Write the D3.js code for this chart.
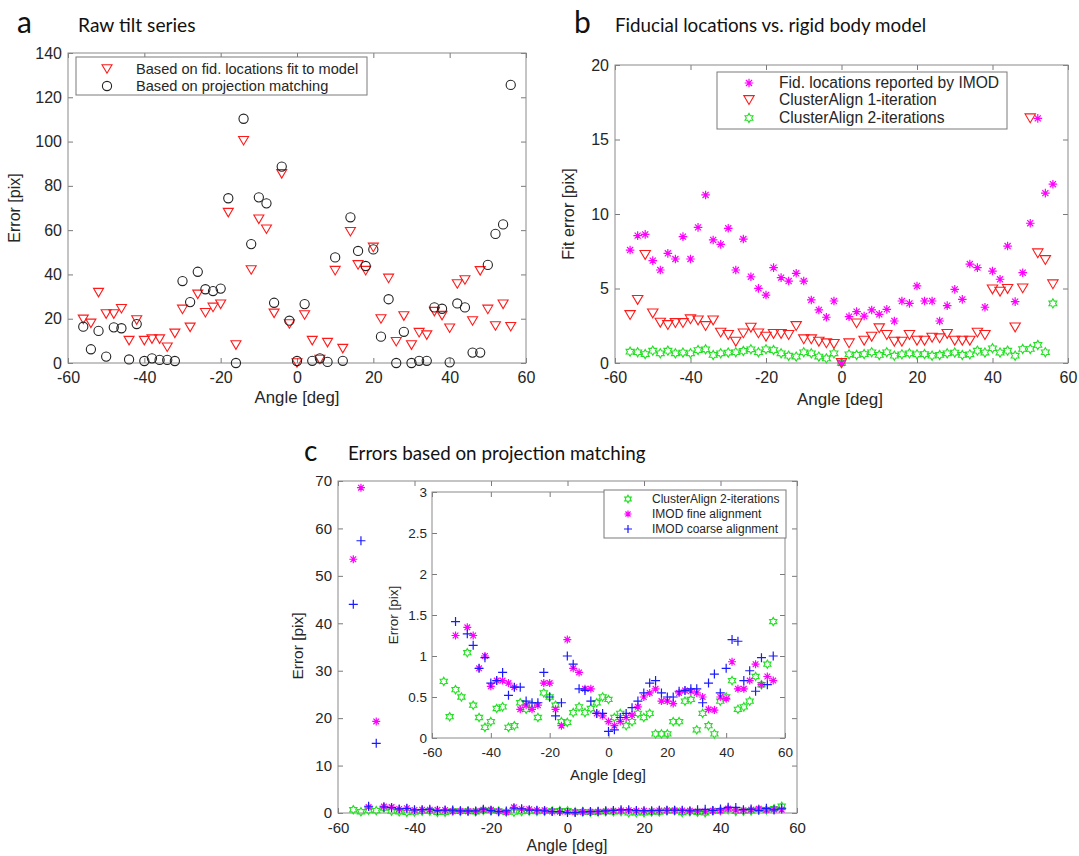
<!DOCTYPE html>
<html>
<head>
<meta charset="utf-8">
<script src="https://cdnjs.cloudflare.com/ajax/libs/d3/7.8.5/d3.min.js"></script>
<style>
body { margin: 0; background: #fff; }
svg text { font-family: "Liberation Sans", Arial, sans-serif; fill: #262626; }
svg text.title { font-family: Lato, "Open Sans", sans-serif; fill: #111; }
</style>
</head>
<body>
<svg id="fig" width="1079" height="856"></svg>
<script>
'use strict';

// tilt angles (deg), shared by every series
let angles = [-56,-54,-52,-50,-48,-46,-44,-42,-40,-38,-36,-34,-32,-30,-28,-26,-24,-22,-20,-18,-16,-14,-12,-10,-8,-6,-4,-2,
              0,2,4,6,8,10,12,14,16,18,20,22,24,26,28,30,32,34,36,38,40,42,44,46,48,50,52,54,56];

// a - raw tilt series
let aFidFit = [19.7,17.9,31.8,22.1,22.1,24.5,10.1,19.4,10.1,10.8,10.8,7.1,13.4,24.2,16.1,31,22.7,25.1,26.5,67.9,8.1,100.4,42,64.9,60.4,22.4,85.4,17.6,
               0,21.7,10.1,1.6,9.2,41.7,6.5,59.3,44.3,41.7,52.2,19.9,38.2,9.6,21.2,8.1,13.7,12.6,23.2,21.4,15.7,35.7,37.5,19,41.6,24.2,16.7,26.5,16.4];
let aProjMatch = [16.4,6.2,14.5,2.9,16.1,15.7,1.6,17.6,0.9,2.1,1.4,1.4,0.9,37,27.5,41.2,33.3,32.5,33.6,74.4,0,110.3,53.7,74.8,72.1,27.2,88.7,19.1,
                  0.9,26.6,1,2.1,0.5,47.7,1,65.8,50.6,43.8,51.3,11.9,28.8,0,14.1,0,1,1,25.1,24.5,0.3,26.9,25.1,4.7,4.7,44.3,58.3,62.6,125.6];

// b - fiducial locations vs rigid body model
let bImod = [7.58,8.55,8.63,6.87,6.24,7.36,6.98,8.48,6.98,9.1,11.28,8.26,7.96,9.04,6.24,8.32,5.79,5.01,4.56,6.4,5.73,5.5,6.02,5.5,4.23,3.56,3.07,4.16,
             0,3.11,3.45,3.15,3.56,3.27,3.6,2.82,4.16,4.0,5.17,4.16,4.16,2.82,3.85,4.94,4.27,6.64,6.4,3.74,6.17,5.62,7.85,4.12,6.06,9.38,16.42,11.4,12.0];
let bClusterAlign1 = [3.22,4.23,7.25,3.33,2.71,2.55,2.68,2.68,2.93,2.86,2.48,2.86,2.04,1.88,1.43,1.99,2.37,1.99,1.77,1.95,1.95,1.88,2.48,1.59,1.59,1.43,1.32,1.28,
                      0,1.32,2.66,1.5,1.77,2.33,1.88,1.43,1.43,1.88,1.5,1.5,1.7,1.66,1.95,1.5,1.5,1.5,2.04,1.88,4.94,4.79,4.97,2.39,5.01,16.42,7.36,6.91,5.28];
let bClusterAlign2 = [0.76,0.72,0.6,0.83,0.65,0.83,0.65,0.7,0.65,0.87,0.92,0.54,0.65,0.7,0.72,0.81,0.92,0.72,0.92,0.87,0.65,0.49,0.43,0.72,0.65,0.43,0.31,0.65,
                      0,0.58,0.54,0.6,0.72,0.54,0.72,0.49,0.58,0.65,0.58,0.6,0.49,0.54,0.65,0.7,0.54,0.58,0.83,0.7,0.99,0.7,0.83,0.49,0.94,0.94,1.21,0.72,4.0];

// c - errors based on projection matching
let cClusterAlign2 = [0.69,0.26,0.59,0.5,1.04,0.4,0.25,0.13,0.2,0.36,0.38,0.13,0.15,0.43,0.35,0.4,0.25,0.55,0.5,0.4,0.2,0.19,0.31,0.38,0.31,0.36,0.43,0.5,
                      0.47,0.25,0.3,0.15,0.2,0.3,0.25,0.3,0.05,0.05,0.05,0.2,0.2,0.45,0.47,0.1,0.3,0.15,0.05,0.45,0.5,0.7,0.35,0.38,0.45,0.75,0.65,0.9,1.42];
let cImodFine = [53.5,68.6,1.25,19.3,1.35,1.25,0.85,1.0,0.63,0.7,0.7,0.67,0.62,0.35,0.4,0.35,0.4,0.67,0.67,0.35,0.15,1.2,0.85,0.8,0.6,0.6,0.3,0.27,
                 0.2,0.15,0.2,0.25,0.28,0.38,0.5,0.55,0.6,0.45,0.45,0.42,0.55,0.58,0.57,0.55,0.5,0.35,0.34,0.5,0.48,0.93,0.6,0.6,0.7,0.9,0.65,0.75,0.7];
let cImodCoarse = [44,57.4,1.42,14.7,1.27,1.13,0.85,0.98,0.67,0.7,0.8,0.52,0.62,0.62,0.45,0.43,0.43,0.8,0.5,0.27,0.43,1.0,0.9,0.6,0.58,0.45,0.3,0.3,
                   0.08,0.1,0.25,0.3,0.37,0.45,0.55,0.67,0.7,0.55,0.5,0.5,0.57,0.58,0.6,0.6,0.43,0.67,0.78,0.55,0.85,1.2,1.18,0.7,0.82,0.57,0.98,0.65,1.0];

let xTicks = [-60,-40,-20,0,20,40,60];

let svg = d3.select('#fig');

// marker outlines in the matlab style
function symbolPath(type, r){
    if(type === 'v'){
        return 'M' + (-r) + ',' + (-0.85*r) + 'L' + r + ',' + (-0.85*r) + 'L0,' + (0.85*r) + 'Z';
    }
    if(type === 'o'){
        return 'M' + r + ',0A' + r + ',' + r + ' 0 1,1 ' + (-r) + ',0A' + r + ',' + r + ' 0 1,1 ' + r + ',0Z';
    }
    if(type === '+'){
        return 'M' + (-r) + ',0H' + r + 'M0,' + (-r) + 'V' + r;
    }
    if(type === '*'){
        let k = r * 0.707;
        return 'M' + (-r) + ',0H' + r + 'M0,' + (-r) + 'V' + r
            + 'M' + (-k) + ',' + (-k) + 'L' + k + ',' + k
            + 'M' + (-k) + ',' + k + 'L' + k + ',' + (-k);
    }
    // hexagram outline
    let pts = [];
    for(let i = 0; i < 12; i++){
        let ang = -Math.PI / 2 + i * Math.PI / 6;
        let rr = (i % 2 === 0) ? r : r / Math.sqrt(3);
        pts.push([rr * Math.cos(ang), rr * Math.sin(ang)]);
    }
    return 'M' + pts.map(function(p){ return p[0].toFixed(2) + ',' + p[1].toFixed(2); }).join('L') + 'Z';
}

function drawAxes(p){
    let x = d3.scaleLinear().domain(p.xDom).range([p.x0, p.x1]);
    let y = d3.scaleLinear().domain(p.yDom).range([p.y1, p.y0]);
    let g = svg.append('g');
    let fmt = function(d){ return String(d); };

    g.append('rect')
        .attr('x', p.x0).attr('y', p.y0)
        .attr('width', p.x1 - p.x0).attr('height', p.y1 - p.y0)
        .attr('fill', '#fff');

    let bottom = g.append('g').attr('transform', 'translate(0,' + p.y1 + ')')
        .call(d3.axisBottom(x).tickValues(xTicks).tickFormat(fmt).tickSizeInner(-5).tickSizeOuter(0).tickPadding(p.xPad));
    let top = g.append('g').attr('transform', 'translate(0,' + p.y0 + ')')
        .call(d3.axisTop(x).tickValues(xTicks).tickFormat('').tickSizeInner(-5).tickSizeOuter(0));
    let left = g.append('g').attr('transform', 'translate(' + p.x0 + ',0)')
        .call(d3.axisLeft(y).tickValues(p.yTicks).tickFormat(fmt).tickSizeInner(-5).tickSizeOuter(0).tickPadding(p.yPad));
    let right = g.append('g').attr('transform', 'translate(' + p.x1 + ',0)')
        .call(d3.axisRight(y).tickValues(p.yTicks).tickFormat('').tickSizeInner(-5).tickSizeOuter(0));

    [bottom, top, left, right].forEach(function(a){
        a.select('.domain').remove();
        a.selectAll('line').attr('stroke', '#7a7a7a');
        a.selectAll('text').attr('font-size', p.fs).attr('fill', '#262626')
            .style('font-family', '"Liberation Sans", Arial, sans-serif');
    });

    g.append('rect')
        .attr('x', p.x0).attr('y', p.y0)
        .attr('width', p.x1 - p.x0).attr('height', p.y1 - p.y0)
        .attr('fill', 'none').attr('stroke', '#8a8a8a').attr('stroke-width', 1);

    let plot = g.append('g');
    return {g: g, plot: plot, x: x, y: y, yMax: p.yDom[1]};
}

function drawSeries(ax, vals, type, color, r, sw){
    let pts = angles.map(function(a, i){ return {a: a, v: vals[i]}; })
        .filter(function(d){ return d.v <= ax.yMax; });
    ax.plot.selectAll(null)
        .data(pts)
        .enter().append('path')
            .attr('d', symbolPath(type, r))
            .attr('transform', function(d){ return 'translate(' + ax.x(d.a) + ',' + ax.y(d.v) + ')'; })
            .attr('fill', 'none')
            .attr('stroke', color)
            .attr('stroke-width', sw);
}

function drawLegend(box, rows, fs, mx, tx){
    let g = svg.append('g');
    g.append('rect')
        .attr('x', box[0]).attr('y', box[1])
        .attr('width', box[2] - box[0]).attr('height', box[3] - box[1])
        .attr('fill', '#fff').attr('stroke', '#7a7a7a');
    rows.forEach(function(row){
        g.append('path')
            .attr('d', symbolPath(row.type, row.r))
            .attr('transform', 'translate(' + mx + ',' + row.y + ')')
            .attr('fill', 'none').attr('stroke', row.color).attr('stroke-width', row.sw);
        g.append('text')
            .attr('x', tx).attr('y', row.y)
            .attr('dy', '0.35em')
            .attr('font-size', fs)
            .text(row.label);
    });
}

function label(x, y, txt, fs, rotate, cls){
    let t = svg.append('text')
        .attr('font-size', fs)
        .attr('text-anchor', rotate ? 'middle' : 'start')
        .text(txt);
    if(cls){ t.attr('class', cls); }
    if(rotate){
        t.attr('transform', 'translate(' + x + ',' + y + ')rotate(-90)');
    } else {
        t.attr('x', x).attr('y', y);
    }
    return t;
}

// ---------- panel a ----------
let axA = drawAxes({x0: 68, x1: 526, y0: 53, y1: 363, xDom: [-60, 60], yDom: [0, 140],
    yTicks: [0,20,40,60,80,100,120,140], fs: 16, xPad: 9, yPad: 6});
drawSeries(axA, aFidFit, 'v', '#ff1a1a', 5, 1.1);
drawSeries(axA, aProjMatch, 'o', '#222', 4.6, 1.1);
drawLegend([76, 57, 367, 95], [
    {type: 'v', r: 5, color: '#ff1a1a', sw: 1.1, y: 69, label: 'Based on fid. locations fit to model'},
    {type: 'o', r: 4.6, color: '#222', sw: 1.1, y: 86, label: 'Based on projection matching'}
], 14.6, 107, 136);
label(20, 208, 'Error [pix]', 16, true);
label(297, 403, 'Angle [deg]', 16.8, false).attr('text-anchor', 'middle');
label(17, 33, 'a', 30, false, 'title');
label(78, 32, 'Raw tilt series', 19.2, false, 'title');

// ---------- panel b ----------
let axB = drawAxes({x0: 615, x1: 1068, y0: 65, y1: 363, xDom: [-60, 60], yDom: [0, 20],
    yTicks: [0,5,10,15,20], fs: 16, xPad: 9, yPad: 6});
drawSeries(axB, bClusterAlign2, 'h', '#22e022', 4.6, 1.1);
drawSeries(axB, bClusterAlign1, 'v', '#ff1a1a', 5.2, 1.1);
drawSeries(axB, bImod, '*', '#ff00ff', 4.3, 1.2);
drawLegend([717, 72, 1007, 129], [
    {type: '*', r: 4.3, color: '#ff00ff', sw: 1.2, y: 83, label: 'Fid. locations reported by IMOD'},
    {type: 'v', r: 5.2, color: '#ff1a1a', sw: 1.1, y: 100, label: 'ClusterAlign 1-iteration'},
    {type: 'h', r: 4.6, color: '#22e022', sw: 1.1, y: 118, label: 'ClusterAlign 2-iterations'}
], 15.6, 749, 779);
label(574, 214, 'Fit error [pix]', 16.3, true);
label(840, 405, 'Angle [deg]', 17, false).attr('text-anchor', 'middle');
label(574, 33, 'b', 30, false, 'title');
label(615, 32, 'Fiducial locations vs. rigid body model', 18.8, false, 'title');

// ---------- panel c ----------
let axC = drawAxes({x0: 338, x1: 797, y0: 481, y1: 813, xDom: [-60, 60], yDom: [0, 70],
    yTicks: [0,10,20,30,40,50,60,70], fs: 15, xPad: 9, yPad: 6});
drawSeries(axC, cClusterAlign2, 'h', '#22e022', 4.2, 1.1);
drawSeries(axC, cImodFine, '*', '#ff00ff', 4, 1.2);
drawSeries(axC, cImodCoarse, '+', '#1a1aff', 4.5, 1.2);
label(303, 646, 'Error [pix]', 15.5, true);
label(567, 851, 'Angle [deg]', 16, false).attr('text-anchor', 'middle');
label(304, 461, 'c', 28, false, 'title');
label(348, 460, 'Errors based on projection matching', 18.8, false, 'title');

// inset zoomed to the low-error range
let axI = drawAxes({x0: 432, x1: 785, y0: 492, y1: 738, xDom: [-60, 60], yDom: [0, 3],
    yTicks: [0,0.5,1,1.5,2,2.5,3], fs: 13.5, xPad: 9, yPad: 5});
drawSeries(axI, cClusterAlign2, 'h', '#22e022', 4.2, 1.1);
drawSeries(axI, cImodFine, '*', '#ff00ff', 4, 1.2);
drawSeries(axI, cImodCoarse, '+', '#1a1aff', 4.5, 1.2);
drawLegend([604, 490, 786, 538], [
    {type: 'h', r: 3.8, color: '#22e022', sw: 1.1, y: 499, label: 'ClusterAlign 2-iterations'},
    {type: '*', r: 3.6, color: '#ff00ff', sw: 1.2, y: 514, label: 'IMOD fine alignment'},
    {type: '+', r: 4, color: '#1a1aff', sw: 1.2, y: 529, label: 'IMOD coarse alignment'}
], 12, 628, 652);
label(398, 615, 'Error [pix]', 13.5, true);
label(608, 780, 'Angle [deg]', 15, false).attr('text-anchor', 'middle');
</script>
</body>
</html>
